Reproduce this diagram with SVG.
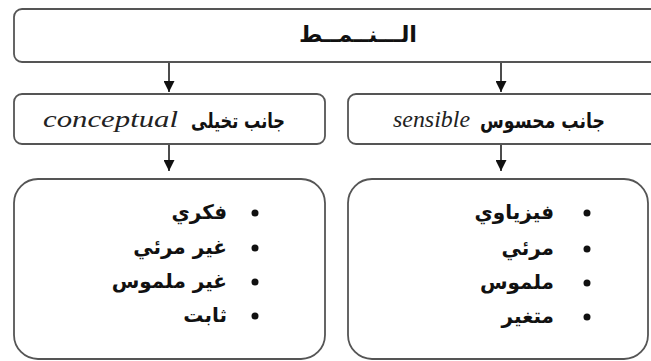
<svg xmlns="http://www.w3.org/2000/svg" width="651" height="361" viewBox="0 0 651 361">
<defs>
<marker id="arr" markerWidth="11" markerHeight="11" refX="11" refY="5.5" orient="auto" markerUnits="userSpaceOnUse" viewBox="0 0 11 11">
<path d="M0,0 L11,5.5 L0,11 Z" fill="#111"/>
</marker>
</defs>
<style>
.box{fill:#fff;stroke:#555;stroke-width:1.8}
.ar{font-family:"DejaVu Sans","Noto Sans",sans-serif;font-weight:bold;fill:#111}
.en{font-family:"Liberation Serif","Times New Roman",serif;font-style:italic;fill:#222}
.conn{stroke:#111;stroke-width:1.5;fill:none}
.dot{fill:#111}
</style>
<rect width="651" height="361" fill="#fff"/>
<g id="connectors">
<line class="conn" x1="169" y1="63" x2="169" y2="92" marker-end="url(#arr)"/>
<line class="conn" x1="501" y1="63" x2="501" y2="92" marker-end="url(#arr)"/>
<line class="conn" x1="169" y1="145" x2="169" y2="171" marker-end="url(#arr)"/>
<line class="conn" x1="501" y1="145" x2="501" y2="171" marker-end="url(#arr)"/>
</g>
<g id="root">
<rect class="box" x="14" y="9" width="700" height="53" rx="8"/>
<text class="ar" x="358" y="42" font-size="22" text-anchor="middle" textLength="118" lengthAdjust="spacingAndGlyphs">الـــنــمــط</text>
</g>
<g id="conceptual">
<rect class="box" x="14" y="94" width="311" height="50" rx="8"/>
<text class="ar" x="285" y="128" font-size="21" text-anchor="end" textLength="94" lengthAdjust="spacingAndGlyphs">جانب تخيلى</text>
<text class="en" x="43" y="127" font-size="23" textLength="135" lengthAdjust="spacingAndGlyphs">conceptual</text>
</g>
<g id="sensible">
<rect class="box" x="348" y="94" width="360" height="50" rx="8"/>
<text class="ar" x="605" y="128" font-size="21" text-anchor="end" textLength="125" lengthAdjust="spacingAndGlyphs">جانب محسوس</text>
<text class="en" x="393" y="127" font-size="23" textLength="77" lengthAdjust="spacingAndGlyphs">sensible</text>
</g>
<g id="conceptual-list">
<rect class="box" x="14" y="179" width="311" height="180" rx="24"/>
<circle class="dot" cx="255" cy="213" r="3.5"/>
<circle class="dot" cx="255" cy="248" r="3.5"/>
<circle class="dot" cx="255" cy="282" r="3.5"/>
<circle class="dot" cx="255" cy="316" r="3.5"/>
<text class="ar" x="227" y="219" font-size="20" text-anchor="end">فكري</text>
<text class="ar" x="227" y="254" font-size="20" text-anchor="end">غير مرئي</text>
<text class="ar" x="227" y="288" font-size="20" text-anchor="end">غير ملموس</text>
<text class="ar" x="227" y="322" font-size="20" text-anchor="end">ثابت</text>
</g>
<g id="sensible-list">
<rect class="box" x="348" y="179" width="300" height="180" rx="24"/>
<circle class="dot" cx="587" cy="213" r="3.5"/>
<circle class="dot" cx="587" cy="249" r="3.5"/>
<circle class="dot" cx="587" cy="283" r="3.5"/>
<circle class="dot" cx="587" cy="317" r="3.5"/>
<text class="ar" x="554" y="219" font-size="20" text-anchor="end">فيزياوي</text>
<text class="ar" x="554" y="255" font-size="20" text-anchor="end">مرئي</text>
<text class="ar" x="554" y="289" font-size="20" text-anchor="end">ملموس</text>
<text class="ar" x="554" y="323" font-size="20" text-anchor="end">متغير</text>
</g>
</svg>
